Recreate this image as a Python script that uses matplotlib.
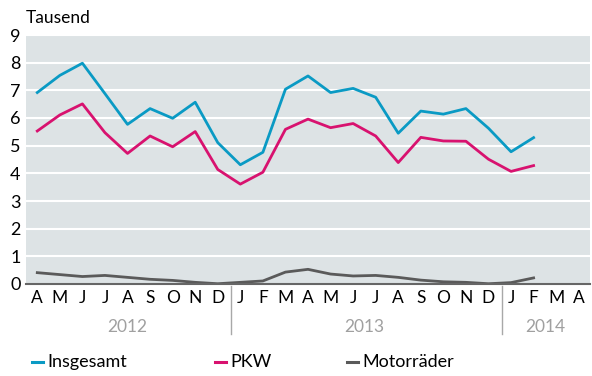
import numpy as np
import matplotlib.pyplot as plt
import matplotlib.transforms as mtransforms

plt.rcParams['font.family'] = ['Lato', 'DejaVu Sans']

monate = ['A', 'M', 'J', 'J', 'A', 'S', 'O', 'N', 'D',
          'J', 'F', 'M', 'A', 'M', 'J', 'J', 'A', 'S', 'O', 'N', 'D',
          'J', 'F', 'M', 'A']
jahre = ['2012', '2013', '2014']

insgesamt = [6.92, 7.54, 7.98, 6.88, 5.77, 6.34, 5.99, 6.57, 5.11,
             4.31, 4.76, 7.04, 7.52, 6.92, 7.07, 6.75, 5.45, 6.25, 6.14, 6.34, 5.63,
             4.78, 5.29]
pkw = [5.53, 6.11, 6.51, 5.47, 4.72, 5.35, 4.96, 5.51, 4.14,
       3.61, 4.04, 5.59, 5.96, 5.65, 5.80, 5.35, 4.39, 5.30, 5.17, 5.16, 4.51,
       4.07, 4.28]
motorraeder = [0.41, 0.34, 0.27, 0.31, 0.24, 0.17, 0.13, 0.06, 0.01,
               0.06, 0.11, 0.43, 0.53, 0.36, 0.29, 0.31, 0.24, 0.14, 0.08, 0.06, 0.01,
               0.05, 0.22]

blau = '#0a9ac4'
pink = '#d8126f'
grau = '#5a5a5a'

fig = plt.figure(figsize=(5.92, 3.76), dpi=100)
ax = fig.add_axes([26 / 592, 1 - 284 / 376, 1 - 26 / 592 - 2 / 592, (284 - 35) / 376])
ax.set_facecolor('#dde3e5')

x = np.arange(len(insgesamt))
ax.plot(x, insgesamt, color=blau, lw=2)
ax.plot(x, pkw, color=pink, lw=2)
ax.plot(x, motorraeder, color=grau, lw=2)

ax.set_xlim(-0.5, 24.5)
ax.set_ylim(0, 9)
ax.set_yticks(range(0, 10))
ax.yaxis.grid(True, color='white', lw=1.5)
ax.set_axisbelow(True)
for s in ['top', 'right', 'left']:
    ax.spines[s].set_visible(False)
ax.spines['bottom'].set_color('#666666')
ax.spines['bottom'].set_linewidth(1.5)
ax.tick_params(axis='y', length=0, labelsize=13, pad=4)
ax.tick_params(axis='x', length=0, labelsize=12.5, pad=4)
ax.set_xticks(range(len(monate)))
ax.set_xticklabels(monate)

# Jahreslabels und Trennlinien unter der Achse
trans = mtransforms.blended_transform_factory(ax.transData, fig.transFigure)
for xs in [8.6, 20.6]:
    ax.plot([xs, xs], [1 - 286 / 376, 1 - 334 / 376], color='#a8a8a8', lw=1,
            transform=trans, clip_on=False)
for xm, j in zip([4, 14.5, 22.5], jahre):
    fig.text(xm, 1 - 327 / 376, j, transform=trans, ha='center', va='center',
             color='#a0a0a0', fontsize=12.5)

fig.text(26 / 592, 1 - 18 / 376, 'Tausend', ha='left', va='center', fontsize=12.5)

# Legende
for x0, farbe, name in [(32, blau, 'Insgesamt'), (215, pink, 'PKW'), (347, grau, 'Motorräder')]:
    fig.add_artist(plt.Line2D([x0 / 592, (x0 + 11) / 592], [1 - 362 / 376] * 2,
                              color=farbe, lw=2.2))
    fig.text((x0 + 15) / 592, 1 - 362 / 376, name, ha='left', va='center', fontsize=13)

fig.savefig('out.png', dpi=100)
